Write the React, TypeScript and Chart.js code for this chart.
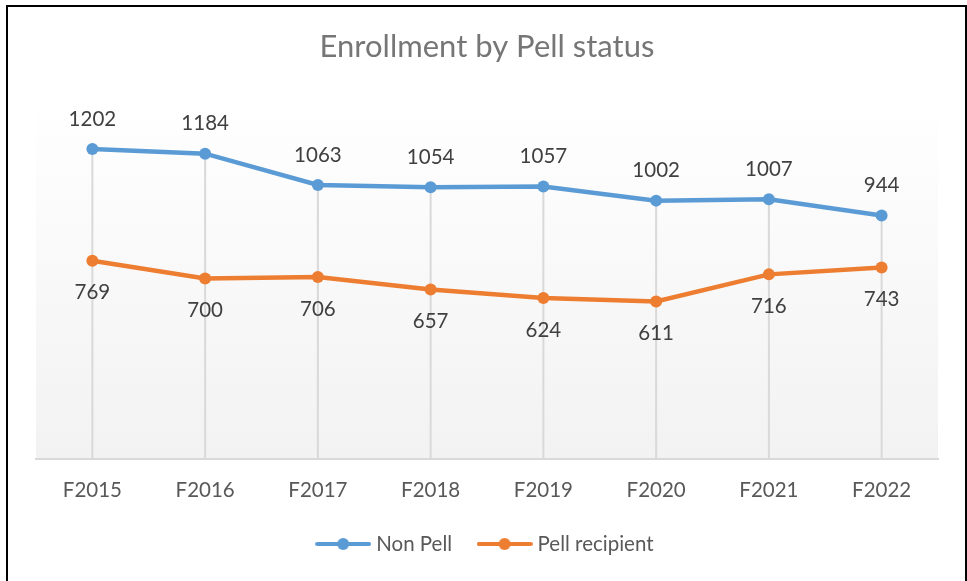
import React, { useEffect, useRef } from "react";
import { Chart, registerables } from "chart.js";

Chart.register(...registerables);

const chartTitle = "Enrollment by Pell status";
const categories = ["F2015", "F2016", "F2017", "F2018", "F2019", "F2020", "F2021", "F2022"];
const seriesNames = ["Non Pell", "Pell recipient"];
const nonPellValues = [1202, 1184, 1063, 1054, 1057, 1002, 1007, 944];
const pellValues = [769, 700, 706, 657, 624, 611, 716, 743];
const yMin = 0;
const yMax = 1400;

const colors = ["#5B9BD5", "#ED7D31"];
const FONT = "Lato, 'Open Sans', sans-serif";
const labelFontSize = 20.5;

function legendImage(color: string): HTMLCanvasElement {
  const c = document.createElement("canvas");
  c.width = 56;
  c.height = 14;
  const ctx = c.getContext("2d")!;
  ctx.strokeStyle = color;
  ctx.lineWidth = 4;
  ctx.lineCap = "round";
  ctx.beginPath();
  ctx.moveTo(2, 7);
  ctx.lineTo(54, 7);
  ctx.stroke();
  ctx.fillStyle = color;
  ctx.beginPath();
  ctx.arc(28, 7, 6, 0, Math.PI * 2);
  ctx.fill();
  return c;
}

const plotDecor = {
  id: "plotDecor",
  beforeDraw(chart: any) {
    const { ctx, chartArea: a } = chart;
    const g = ctx.createLinearGradient(0, a.top, 0, a.bottom);
    g.addColorStop(0, "#ffffff");
    g.addColorStop(1, "#f2f2f2");
    ctx.save();
    ctx.fillStyle = g;
    ctx.fillRect(a.left, a.top, a.right - a.left, a.bottom - a.top);
    ctx.restore();
  },
  beforeDatasetsDraw(chart: any) {
    const { ctx, chartArea: a } = chart;
    const metas = chart.data.datasets.map((_: any, i: number) => chart.getDatasetMeta(i));
    const n = chart.data.labels.length;
    ctx.save();
    ctx.strokeStyle = "#d9d9d9";
    ctx.lineWidth = 2;
    for (let i = 0; i < n; i++) {
      const x = metas[0].data[i].x;
      const top = Math.min(...metas.map((m: any) => m.data[i].y));
      ctx.beginPath();
      ctx.moveTo(x, top);
      ctx.lineTo(x, a.bottom);
      ctx.stroke();
    }
    ctx.restore();
  },
  afterDatasetsDraw(chart: any) {
    const { ctx } = chart;
    ctx.save();
    ctx.font = `${labelFontSize}px ${FONT}`;
    ctx.fillStyle = "#404040";
    ctx.textAlign = "center";
    ctx.textBaseline = "middle";
    chart.data.datasets.forEach((ds: any, di: number) => {
      const meta = chart.getDatasetMeta(di);
      meta.data.forEach((pt: any, i: number) => {
        const off = di === 0 ? -30 : 32;
        ctx.fillText(String(ds.data[i]), pt.x, pt.y + off);
      });
    });
    ctx.restore();
  },
};

export default function App() {
  const ref = useRef<HTMLCanvasElement | null>(null);

  useEffect(() => {
    if (!ref.current) return;
    const images = colors.map(legendImage);
    const chart = new Chart(ref.current, {
      type: "line",
      data: {
        labels: categories,
        datasets: [
          {
            label: seriesNames[0],
            data: nonPellValues,
            borderColor: colors[0],
            backgroundColor: colors[0],
            borderWidth: 4.5,
            pointRadius: 6,
            pointBackgroundColor: colors[0],
            pointBorderWidth: 0,
            tension: 0,
          },
          {
            label: seriesNames[1],
            data: pellValues,
            borderColor: colors[1],
            backgroundColor: colors[1],
            borderWidth: 4.5,
            pointRadius: 6,
            pointBackgroundColor: colors[1],
            pointBorderWidth: 0,
            tension: 0,
          },
        ],
      },
      options: {
        animation: false,
        responsive: false,
        maintainAspectRatio: false,
        layout: { padding: { left: 36, right: 29, top: 0, bottom: 16.75 } },
        scales: {
          x: {
            offset: true,
            grid: { display: false, drawTicks: false },
            border: { display: true, color: "#d9d9d9", width: 2 },
            ticks: {
              padding: 18.7,
              color: "#595959",
              font: { family: FONT, size: labelFontSize },
              maxRotation: 0,
              autoSkip: false,
            },
            afterFit: (scale: any) => {
              scale.height = 45;
            },
          },
          y: {
            display: false,
            min: yMin,
            max: yMax,
          },
        },
        plugins: {
          title: {
            display: true,
            text: chartTitle,
            color: "#767676",
            font: { family: FONT, size: 31, weight: "normal" },
            padding: { top: 28.4, bottom: 32.4 },
          },
          legend: {
            display: true,
            position: "bottom",
            labels: {
              usePointStyle: true,
              pointStyleWidth: 45.5,
              padding: 29.75,
              color: "#595959",
              font: { family: FONT, size: labelFontSize },
              generateLabels: (c: any) => {
                const base = Chart.defaults.plugins.legend.labels.generateLabels(c);
                return base.map((l: any, i: number) => ({ ...l, pointStyle: images[i] }));
              },
            },
          },
          tooltip: { enabled: false },
        },
      },
      plugins: [plotDecor],
    });
    return () => chart.destroy();
  }, []);

  return (
    <div style={{ position: "absolute", left: 0, top: 0, width: 967, height: 581, overflow: "hidden", background: "#fff" }}>
      <canvas ref={ref} width={967} height={581} style={{ position: "absolute", left: 0, top: 0, width: 967, height: 581 }} />
      <div
        style={{
          position: "absolute",
          left: 6,
          top: 5,
          width: 961,
          height: 640,
          border: "2px solid #000",
          boxSizing: "border-box",
          pointerEvents: "none",
        }}
      />
    </div>
  );
}
